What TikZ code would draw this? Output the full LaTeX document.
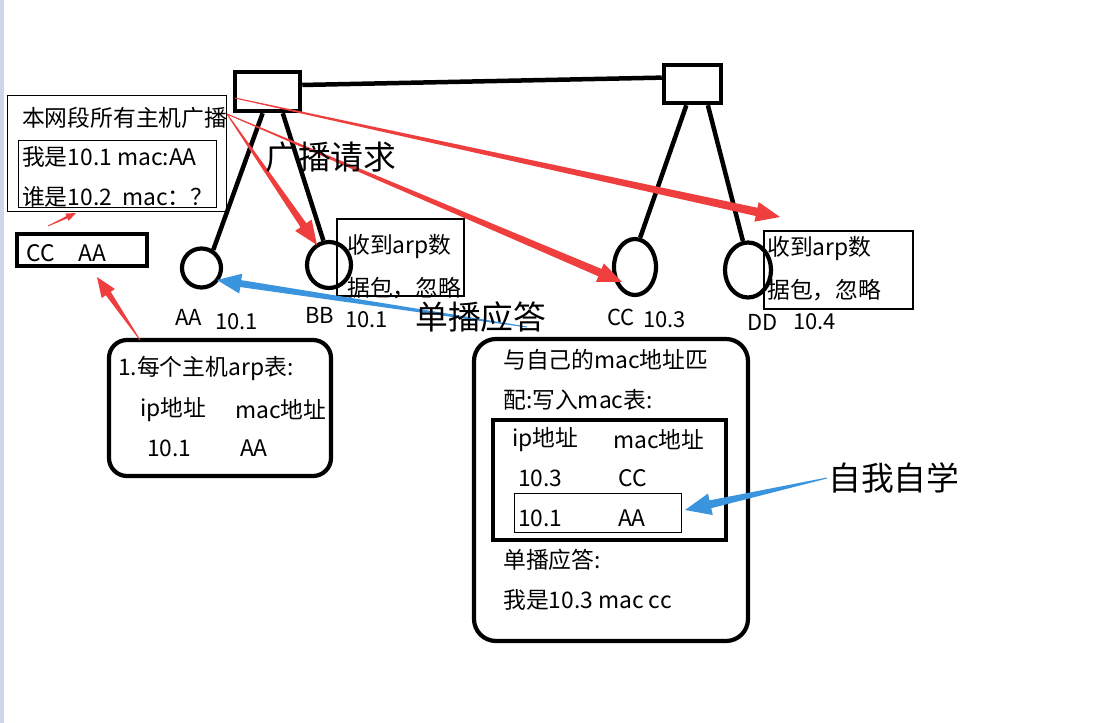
\documentclass[tikz,border=0pt]{standalone}
\usepackage{fontspec}
\setmainfont{Noto Sans CJK SC}
\usetikzlibrary{calc,shapes.geometric}
\definecolor{arred}{RGB}{238,62,62}
\definecolor{arblue}{RGB}{58,148,222}
\definecolor{stripc}{RGB}{205,214,234}
\tikzset{
 txt/.style={anchor=west,inner sep=0pt,font=\fontsize{22.8}{26}\selectfont},
 lbl/.style={anchor=west,inner sep=0pt,font=\fontsize{22}{26}\selectfont},
 big/.style={anchor=west,inner sep=0pt,font=\fontsize{32.8}{38}\selectfont},
 sw/.style={draw,line width=4.5pt,inner sep=0pt},
 host/.style={draw,ellipse,line width=4.2pt,inner sep=0pt},
 wire/.style={line width=4.5pt},
 thinbox/.style={draw,line width=1.2pt,inner sep=0pt},
 thickbox/.style={draw,line width=4.2pt,inner sep=0pt},
}
% tapered arrow: #1 start, #2 tip, #3 tail half width, #4 shaft half width, #5 head length, #6 head half width, #7 colour
\newcommand{\taperarrow}[7]{%
 \path ($(#2)!#5!(#1)$) coordinate (tmpB);
 \fill[#7] ($(#1)!#3!90:(#2)$) -- ($(tmpB)!#4!-90:(#1)$) -- ($(tmpB)!#6!-90:(#1)$) -- (#2)
   -- ($(tmpB)!#6!90:(#1)$) -- ($(tmpB)!#4!90:(#1)$) -- ($(#1)!#3!-90:(#2)$) -- cycle;}
\begin{document}
\begin{tikzpicture}[x=1pt,y=-1pt]
\useasboundingbox (0,0) rectangle (1098,723);
\fill[white] (0,0) rectangle (1098,723);
\fill[stripc] (0,0) rectangle (4,723);

% switches
\node[sw,minimum width=65pt,minimum height=39pt] (sw1) at (267.5,91.5) {};
\node[sw,minimum width=57pt,minimum height=38pt] (sw2) at (692.5,84) {};
\draw[wire] ($(sw1.north east)!0.35!(sw1.south east)$) -- ($(sw2.north west)!0.35!(sw2.south west)$);

% hosts
\node[host,minimum width=39pt,minimum height=39pt] (aa) at (201.5,268) {};
\node[host,minimum width=44pt,minimum height=46pt] (bb) at (329,265) {};
\node[host,minimum width=42pt,minimum height=56pt] (cc) at (635,267) {};
\node[host,minimum width=46pt,minimum height=55pt] (dd) at (748,270) {};

\draw[wire] ($(sw1.south west)!0.43!(sw1.south east)$) -- (aa.57);
\draw[wire] ($(sw1.south west)!0.72!(sw1.south east)$) -- (bb.103);
\draw[wire] ($(sw2.south west)!0.40!(sw2.south east)$) -- (cc.80);
\draw[wire] ($(sw2.south west)!0.75!(sw2.south east)$) -- (dd.100);

% host labels
\node[lbl] (laa) at (175,317) {AA};
\node[lbl] (iaa) at (215,322) {10.1};
\node[lbl] (lbb) at (305,315) {BB};
\node[lbl] (ibb) at (345,320) {10.1};
\node[lbl] (lcc) at (607,317) {CC};
\node[lbl] (icc) at (643,320) {10.3};
\node[lbl] (ldd) at (747,322) {DD};
\node[lbl] (idd) at (793,322) {10.4};

% broadcast box
\node[thinbox,minimum width=219pt,minimum height=116pt] (bcbox) at (117,153.5) {};
\node[thinbox,minimum width=198pt,minimum height=67pt] (bcin) at (117.5,174) {};
\node[txt] (bct) at (22,118) {本网段所有主机广播};
\node[txt] (bc1) at (22,157) {我是10.1 mac:AA};
\node[txt] (bc2) at (22,197) {谁是10.2\ \ mac：？};

% CC AA box
\node[thickbox,minimum width=130pt,minimum height=32pt] (ccaa) at (82,250) {};
\node[txt] (ccaat) at (26,253) {CC\hspace{24pt}AA};

% arp table box
\node[thickbox,rounded corners=18pt,minimum width=222pt,minimum height=136pt] (arpbox) at (220,408) {};
\node[txt] (arp1) at (118,368) {1.每个主机arp表:};
\node[txt] (arp2) at (140,410) {ip地址};
\node[txt] (arp3) at (235,410) {mac地址};
\node[txt] (arp4) at (147,448) {10.1};
\node[txt] (arp5) at (240,448) {AA};

% notes
\node[thinbox,minimum width=127pt,minimum height=77pt] (nbb) at (400.5,257.5) {};
\node[txt] (nbb1) at (347,247) {收到arp数};
\node[txt] (nbb2) at (347,288) {据包，忽略};
\node[thinbox,minimum width=149pt,minimum height=78pt] (ndd) at (838.5,270) {};
\node[txt] (ndd1) at (767,249) {收到arp数};
\node[txt] (ndd2) at (767,290) {据包，忽略};

% CC reply box
\node[thickbox,rounded corners=22pt,minimum width=274pt,minimum height=302pt] (ccbox) at (611,490) {};
\node[txt] (cc1) at (503,360) {与自己的mac地址匹};
\node[txt] (cc2) at (503,400) {配:写入mac表:};
\node[thickbox,minimum width=233pt,minimum height=120pt] (cctab) at (609.5,480) {};
\node[txt] (cc3) at (512,440) {ip地址};
\node[txt] (cc4) at (613,440) {mac地址};
\node[txt] (cc5) at (518,478) {10.3};
\node[txt] (cc6) at (618,478) {CC};
\node[thinbox,minimum width=167pt,minimum height=39pt] (ccrow) at (598,513) {};
\node[txt] (cc7) at (518,518) {10.1};
\node[txt] (cc8) at (618,518) {AA};
\node[txt] (cc9) at (503,560) {单播应答:};
\node[txt] (cc10) at (503,600) {我是10.3 mac cc};

% arrows
\coordinate (bcs) at (227,114);
\coordinate (bcs2) at (235,98);
\coordinate (tbb) at (317,245);
\coordinate (tcc) at (622,282);
\coordinate (tdd) at (780,217);
\taperarrow{bcs}{tbb}{0.5pt}{3.5pt}{24pt}{10pt}{arred}
\taperarrow{bcs}{tcc}{0.5pt}{4pt}{24pt}{10pt}{arred}
\taperarrow{bcs2}{tdd}{0.5pt}{4.2pt}{24pt}{10pt}{arred}
\coordinate (s1) at (48,226);
\coordinate (t1) at (76,213);
\taperarrow{s1}{t1}{0.4pt}{1.2pt}{10pt}{4pt}{arred}
\coordinate (s2) at (140,340);
\coordinate (t2) at (97,277);
\taperarrow{s2}{t2}{0.4pt}{3pt}{20pt}{8pt}{arred}

\coordinate (us) at (527,327);
\coordinate (ut) at (217,280);
\taperarrow{us}{ut}{0.5pt}{3.5pt}{24pt}{10pt}{arblue}
\coordinate (ss) at (827,478);
\coordinate (st) at (685,510);
\taperarrow{ss}{st}{0.5pt}{4pt}{26pt}{11pt}{arblue}

% big labels
\node[big] (gbqq) at (265,157) {广播请求};
\node[big] (dbyd) at (415,317) {单播应答};
\node[big] (zwzx) at (828,478) {自我自学};
\end{tikzpicture}
\end{document}
